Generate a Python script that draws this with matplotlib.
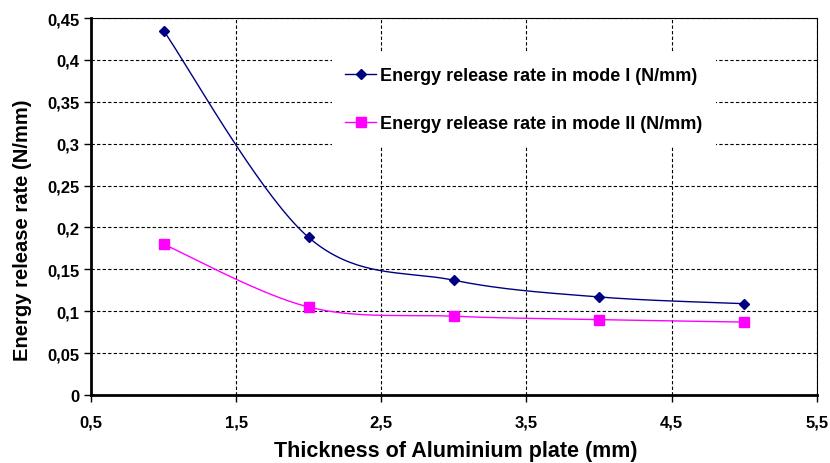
import numpy as np
import matplotlib.pyplot as plt
from matplotlib.ticker import FuncFormatter, MultipleLocator

plt.rcParams['font.family'] = ['Liberation Sans', 'DejaVu Sans']
plt.rcParams['font.weight'] = 'bold'

thickness = [1, 2, 3, 4, 5]
g_mode1 = [0.435, 0.188, 0.137, 0.117, 0.109]
g_mode2 = [0.180, 0.105, 0.094, 0.090, 0.087]
labels = ['Energy release rate in mode I (N/mm)', 'Energy release rate in mode II (N/mm)']
xticks = [0.5, 1.5, 2.5, 3.5, 4.5, 5.5]


def smooth(x, y, n=40):
    # Catmull-Rom style bezier like Excel's smoothed line
    x = np.asarray(x, float)
    y = np.asarray(y, float)
    px = np.concatenate([[x[0]], x, [x[-1]]])
    py = np.concatenate([[y[0]], y, [y[-1]]])
    xs, ys = [], []
    t = np.linspace(0, 1, n)
    for i in range(1, len(px) - 2):
        p0 = np.array([px[i], py[i]])
        p3 = np.array([px[i + 1], py[i + 1]])
        p1 = p0 + (np.array([px[i + 1], py[i + 1]]) - np.array([px[i - 1], py[i - 1]])) / 6
        p2 = p3 - (np.array([px[i + 2], py[i + 2]]) - np.array([px[i], py[i]])) / 6
        b = ((1 - t) ** 3)[:, None] * p0 + (3 * (1 - t) ** 2 * t)[:, None] * p1 \
            + (3 * (1 - t) * t ** 2)[:, None] * p2 + (t ** 3)[:, None] * p3
        xs.extend(b[:, 0])
        ys.extend(b[:, 1])
    return xs, ys


fig = plt.figure(figsize=(8.3, 4.64), dpi=100)
ax = fig.add_axes([0.1096, 0.1466, 0.8744, 0.8124])

c1 = '#000080'
c2 = '#ff00ff'
sx, sy = smooth(thickness, g_mode1)
ax.plot(sx, sy, color=c1, lw=1.0)
ax.plot(thickness, g_mode1, 'D', color=c1, ms=5, ls='none')
sx, sy = smooth(thickness, g_mode2)
ax.plot(sx, sy, color=c2, lw=1.0)
ax.plot(thickness, g_mode2, 's', color=c2, ms=6.5, ls='none')

# legend proxies
h1, = ax.plot([], [], color=c1, marker='D', ms=5, lw=1.0)
h2, = ax.plot([], [], color=c2, marker='s', ms=6.5, lw=1.0)
leg = ax.legend([h1, h2], labels, loc='upper left', bbox_to_anchor=(0.332, 0.906),
                frameon=True, fancybox=False, framealpha=1, edgecolor='white',
                fontsize=13, handlelength=1.7, labelspacing=1.72, borderpad=0.75,
                handletextpad=0.2, borderaxespad=0)
leg.get_frame().set_linewidth(0)

ax.set_xlim(0.5, 5.5)
ax.set_ylim(0, 0.45)
ax.set_xticks(xticks)
ax.yaxis.set_major_locator(MultipleLocator(0.05))
fmt = FuncFormatter(lambda v, p: ('%g' % round(v, 3)).replace('.', ','))
ax.xaxis.set_major_formatter(fmt)
ax.yaxis.set_major_formatter(fmt)

ax.grid(True, color='black', ls=(0, (3, 2)), lw=0.8)
ax.set_axisbelow(True)
for s in ['left', 'bottom']:
    ax.spines[s].set_linewidth(2)
for s in ['top', 'right']:
    ax.spines[s].set_linewidth(0.8)
ax.tick_params(direction='out', length=5, width=1, labelsize=12)
ax.tick_params(axis='x', pad=9)
ax.tick_params(axis='y', pad=3)

ax.set_xlabel('Thickness of Aluminium plate (mm)', fontsize=15.5, fontweight='bold', va='center')
ax.set_ylabel('Energy release rate (N/mm)', fontsize=14.5, fontweight='bold', va='center')
ax.xaxis.set_label_coords(0.503, -0.146)
ax.yaxis.set_label_coords(-0.095, 0.44)

fig.savefig('out.png', dpi=100)
